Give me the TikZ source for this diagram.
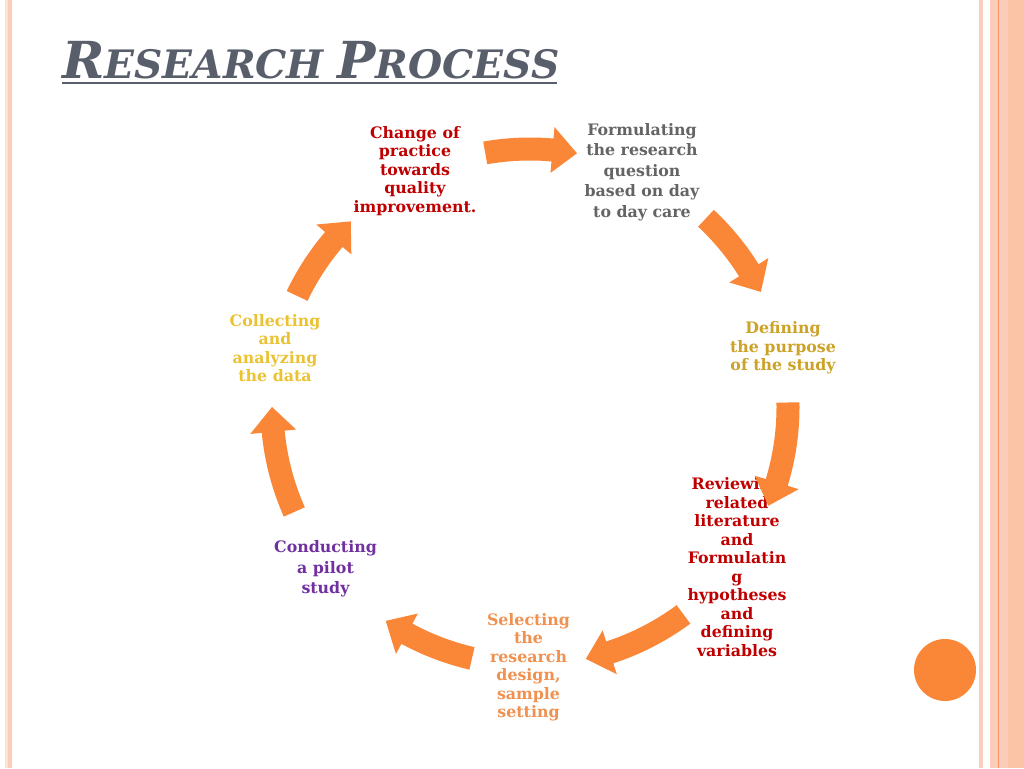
\documentclass[tikz,border=0pt]{standalone}
\usepackage{fontspec}
\setmainfont{DejaVu Serif}
\usetikzlibrary{calc}
\definecolor{arr}{RGB}{250,135,55}
\definecolor{titlec}{RGB}{89,94,107}
\definecolor{darkred}{RGB}{192,0,0}
\definecolor{greyt}{RGB}{100,100,100}
\definecolor{goldt}{RGB}{204,163,38}
\definecolor{yellt}{RGB}{235,195,50}
\definecolor{oranget}{RGB}{240,145,80}
\definecolor{purplet}{RGB}{112,48,160}
\definecolor{salmon}{RGB}{252,204,186}
\definecolor{palesal}{RGB}{251,228,214}
\definecolor{lineor}{RGB}{242,150,105}
% #1 = tail angle, #2 = tip angle (screen, clockwise)
\newcommand{\cycarrow}[2]{%
  \pgfmathsetmacro{\aS}{#1}%
  \pgfmathsetmacro{\aB}{#2-5.5}%
  \pgfmathsetmacro{\aT}{#2}%
  \fill[arr] ($(C)+(\aS:269.5)$) arc[start angle=\aS, end angle=\aB, radius=269.5]
    -- ($(C)+(\aB:281)$) -- ($(C)+(\aT:258)$) -- ($(C)+(\aB:235)$)
    -- ($(C)+(\aB:246.5)$) arc[start angle=\aB, end angle=\aS, radius=246.5] -- cycle;}
\tikzset{
  lbl/.style={align=center, font=\bfseries\fontsize{15.8}{18.5}\selectfont, inner sep=0pt},
  lblw/.style={align=center, font=\bfseries\fontsize{15.8}{20.5}\selectfont, inner sep=0pt}
}
\begin{document}
\begin{tikzpicture}[x=1pt,y=-1pt]
\useasboundingbox (0,0) rectangle (1024,768);
\fill[white] (0,0) rectangle (1024,768);
% borders
\fill[palesal] (5,0) rectangle (8,768);
\fill[salmon] (8,0) rectangle (12,768);
\fill[salmon] (979,0) rectangle (983,768);
\fill[salmon] (990,0) rectangle (1024,768);
\fill[salmon!90!orange] (1008,0) rectangle (1024,768);
\draw[lineor, line width=1pt] (998,0) -- (998,768);
% title
\node[anchor=base west, inner sep=0pt, text=titlec, font=\bfseries\itshape] (title) at (62,78)
  {\fontsize{51}{60}\selectfont R\fontsize{39.2}{48}\selectfont ESEARCH \fontsize{51}{60}\selectfont P\fontsize{39.2}{48}\selectfont ROCESS};
\draw[titlec, line width=2.5pt] (62,83) -- (557,83);
% circle centre
\coordinate (C) at (530,407);
% nodes
\node[lbl, text=darkred] (change) at (415,171) {Change of\\practice\\towards\\quality\\improvement.};
\node[lblw, text=greyt] (formul) at (642,172) {Formulating\\the research\\question\\based on day\\to day care};
\node[lbl, text=goldt] (defin) at (783,348) {Defining\\the purpose\\of the study};
\node[lbl, text=darkred] (review) at (737,567) {Reviewing\\related\\literature\\and\\Formulatin\\g\\hypotheses\\and\\defining\\variables};
\node[lbl, text=oranget] (select) at (528.5,667) {Selecting\\the\\research\\design,\\sample\\setting};
\node[lblw, text=purplet] (conduct) at (325.5,569) {Conducting\\a pilot\\study};
\node[lbl, text=yellt] (collect) at (275,348) {Collecting\\and\\analyzing\\the data};
% arrows
\cycarrow{-100}{-79.5}
\cycarrow{-47}{-26.5}
\cycarrow{-1}{22.5}
\cycarrow{53.5}{77.5}
\cycarrow{103}{124}
\cycarrow{156}{180}
\cycarrow{205.5}{226}
% decorative dot
\fill[arr] (945,670) circle[radius=31];
\end{tikzpicture}
\end{document}
